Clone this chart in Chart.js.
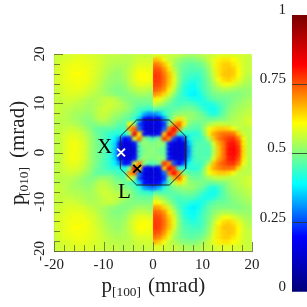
<!DOCTYPE html>
<html>
<head>
<meta charset="utf-8">
<script src="https://cdn.jsdelivr.net/npm/chart.js@4"></script>
<style>
html, body { margin: 0; padding: 0; background: #fff; }
canvas { position: absolute; left: 0; top: 0; }
</style>
</head>
<body>
<canvas id="chart_map" width="307" height="307"></canvas>
<canvas id="chart_bar" width="307" height="307"></canvas>
<script>
// cell centres in mrad, left to right and top to bottom
var cellX = [-19.5,-18.5,-17.5,-16.5,-15.5,-14.5,-13.5,-12.5,-11.5,-10.5,-9.5,-8.5,-7.5,-6.5,-5.5,-4.5,-3.5,-2.5,-1.5,-0.5,
    0.5,1.5,2.5,3.5,4.5,5.5,6.5,7.5,8.5,9.5,10.5,11.5,12.5,13.5,14.5,15.5,16.5,17.5,18.5,19.5];
var cellY = [19.5,18.5,17.5,16.5,15.5,14.5,13.5,12.5,11.5,10.5,9.5,8.5,7.5,6.5,5.5,4.5,3.5,2.5,1.5,0.5,
    -0.5,-1.5,-2.5,-3.5,-4.5,-5.5,-6.5,-7.5,-8.5,-9.5,-10.5,-11.5,-12.5,-13.5,-14.5,-15.5,-16.5,-17.5,-18.5,-19.5];

// density in percent, one row per cellY
var density = [
    [56,57,57,58,58,58,58,58,57,57,56,56,56,55,55,55,56,56,56,56, 58,58,57,56,56,55,54,53,53,54,55,56,57,58,58,58,58,57,57,56],
    [56,57,58,58,59,59,59,58,58,57,56,55,55,55,55,55,56,57,57,57, 67,65,60,56,54,52,50,50,50,51,53,56,59,62,63,63,61,59,57,56],
    [56,58,59,59,60,60,59,59,58,57,56,55,54,54,54,55,57,58,58,58, 73,71,66,60,53,50,48,47,47,48,50,54,59,63,65,65,63,60,57,56],
    [57,58,59,60,60,60,60,59,58,57,55,54,53,53,54,56,58,60,60,59, 76,75,70,63,55,50,47,46,46,46,48,52,58,63,65,66,65,61,57,56],
    [57,58,59,60,61,61,60,59,58,56,55,53,52,52,54,56,59,61,61,60, 78,77,72,66,58,50,46,45,44,44,47,51,57,63,66,66,65,61,57,55],
    [57,58,59,60,60,60,60,59,57,56,54,52,52,52,53,56,59,60,61,60, 78,77,73,66,59,50,45,43,42,43,46,50,55,61,64,65,63,59,56,54],
    [57,58,59,59,60,60,59,58,57,55,53,52,51,51,52,55,57,59,59,58, 77,76,72,65,58,49,43,41,40,43,46,49,53,57,60,60,58,56,54,53],
    [56,57,58,59,59,59,58,57,56,54,53,51,50,50,51,53,55,56,56,55, 75,73,70,62,55,47,42,40,39,42,45,48,51,53,54,54,53,52,52,52],
    [56,57,58,58,58,58,57,56,55,54,53,52,51,50,50,51,52,53,53,52, 70,68,64,57,51,45,42,39,38,40,44,47,49,50,50,50,50,50,51,52],
    [56,56,57,57,57,56,55,54,54,55,56,56,55,53,51,50,50,50,50,50, 62,60,56,52,47,44,44,42,41,40,42,45,47,48,48,49,50,51,52,53],
    [56,56,56,56,55,55,54,53,54,55,56,57,56,55,53,51,49,48,48,48, 56,54,51,48,46,45,46,46,45,43,41,41,42,45,47,49,51,52,53,54],
    [56,56,55,55,54,54,53,53,54,56,57,56,55,54,53,51,48,45,44,43, 47,46,46,46,47,48,49,49,48,46,43,41,40,43,47,50,52,53,54,55],
    [56,56,55,54,53,53,52,52,54,56,56,55,53,52,50,49,46,42,33,30, 30,34,42,47,50,51,52,52,51,49,47,43,41,44,48,51,53,54,55,56],
    [55,55,55,54,53,52,51,51,53,55,55,53,51,50,48,46,43,34,20,17, 17,20,32,46,55,63,57,52,51,50,49,48,48,49,50,52,54,55,56,57],
    [55,55,55,55,54,53,51,50,50,52,52,51,49,47,46,62,50,25,16,15, 15,16,24,50,68,74,62,50,48,48,50,53,55,56,56,55,55,55,56,57],
    [55,56,56,57,56,55,53,51,48,47,47,47,46,44,46,70,74,28,15,14, 14,15,28,72,82,70,50,47,46,46,52,60,63,65,65,64,60,56,55,55],
    [55,56,57,58,58,57,55,52,49,47,45,43,42,42,40,52,84,62,20,16, 16,20,65,83,76,42,42,43,42,43,50,62,68,71,73,73,72,64,56,55],
    [55,56,58,59,59,58,56,53,50,47,45,42,38,30,19,22,58,72,50,46, 46,50,78,70,26,18,26,40,44,44,46,54,66,72,75,78,78,72,60,55],
    [55,56,58,60,60,59,57,53,50,48,45,42,36,21,15,14,21,48,52,50, 50,52,50,21,15,14,17,35,44,46,46,47,58,68,73,80,81,76,62,55],
    [55,56,58,60,60,59,57,53,50,48,46,43,35,19,15,14,16,46,50,51, 50,50,47,18,14,14,16,32,45,46,46,45,55,66,73,81,82,78,63,55],
    [55,56,58,60,60,59,57,53,50,48,46,43,35,19,15,14,16,46,50,51, 50,50,47,18,14,14,16,32,45,46,46,45,55,66,73,81,82,78,63,55],
    [55,56,58,60,60,59,57,53,50,48,45,42,36,21,15,14,21,48,52,50, 50,52,50,21,15,14,17,35,44,46,46,47,58,68,73,80,81,76,62,55],
    [55,56,58,59,59,58,56,53,50,47,45,42,38,30,19,22,58,72,50,46, 46,50,78,70,26,18,26,40,44,44,46,54,66,72,75,78,78,72,60,55],
    [55,56,57,58,58,57,55,52,49,47,45,43,42,42,40,52,84,62,20,16, 16,20,65,83,76,42,42,43,42,43,50,62,68,71,73,73,72,64,56,55],
    [55,56,56,57,56,55,53,51,48,47,47,47,46,44,46,70,74,28,15,14, 14,15,28,72,82,70,50,47,46,46,52,60,63,65,65,64,60,56,55,55],
    [55,55,55,55,54,53,51,50,50,52,52,51,49,47,46,62,50,25,16,15, 15,16,24,50,68,74,62,50,48,48,50,53,55,56,56,55,55,55,56,57],
    [55,55,55,54,53,52,51,51,53,55,55,53,51,50,48,46,43,34,20,17, 17,20,32,46,55,63,57,52,51,50,49,48,48,49,50,52,54,55,56,57],
    [56,56,55,54,53,53,52,52,54,56,56,55,53,52,50,49,46,42,33,30, 30,34,42,47,50,51,52,52,51,49,47,43,41,44,48,51,53,54,55,56],
    [56,56,55,55,54,54,53,53,54,56,57,56,55,54,53,51,48,45,44,43, 47,46,46,46,47,48,49,49,48,46,43,41,40,43,47,50,52,53,54,55],
    [56,56,56,56,55,55,54,53,54,55,56,57,56,55,53,51,49,48,48,48, 56,54,51,48,46,45,46,46,45,43,41,41,42,45,47,49,51,52,53,54],
    [56,56,57,57,57,56,55,54,54,55,56,56,55,53,51,50,50,50,50,50, 62,60,56,52,47,44,44,42,41,40,42,45,47,48,48,49,50,51,52,53],
    [56,57,58,58,58,58,57,56,55,54,53,52,51,50,50,51,52,53,53,52, 70,68,64,57,51,45,42,39,38,40,44,47,49,50,50,50,50,50,51,52],
    [56,57,58,59,59,59,58,57,56,54,53,51,50,50,51,53,55,56,56,55, 75,73,70,62,55,47,42,40,39,42,45,48,51,53,54,54,53,52,52,52],
    [57,58,59,59,60,60,59,58,57,55,53,52,51,51,52,55,57,59,59,58, 77,76,72,65,58,49,43,41,40,43,46,49,53,57,60,60,58,56,54,53],
    [57,58,59,60,60,60,60,59,57,56,54,52,52,52,53,56,59,60,61,60, 78,77,73,66,59,50,45,43,42,43,46,50,55,61,64,65,63,59,56,54],
    [57,58,59,60,61,61,60,59,58,56,55,53,52,52,54,56,59,61,61,60, 78,77,72,66,58,50,46,45,44,44,47,51,57,63,66,66,65,61,57,55],
    [57,58,59,60,60,60,60,59,58,57,55,54,53,53,54,56,58,60,60,59, 76,75,70,63,55,50,47,46,46,46,48,52,58,63,65,66,65,61,57,56],
    [56,58,59,59,60,60,59,59,58,57,56,55,54,54,54,55,57,58,58,58, 73,71,66,60,53,50,48,47,47,48,50,54,59,63,65,65,63,60,57,56],
    [56,57,58,58,59,59,59,58,58,57,56,55,55,55,55,55,56,57,57,57, 67,65,60,56,54,52,50,50,50,51,53,56,59,62,63,63,61,59,57,56],
    [56,57,57,58,58,58,58,58,57,57,56,56,56,55,55,55,56,56,56,56, 58,58,57,56,56,55,54,53,53,54,55,56,57,58,58,58,58,57,57,56]
];

var octagonX = [-3.3, 3.3, 6.6, 6.6, 3.3, -3.3, -6.6, -6.6, -3.3];
var octagonY = [6.6, 6.6, 3.3, -3.3, -6.6, -6.6, -3.3, 3.3, 6.6];
var pointX = [-6.45, 0];
var pointL = [-3.2, -3.3];
var axisTicks = [-20, -10, 0, 10, 20];
var minorTicks = [-18, -16, -14, -12, -8, -6, -4, -2, 2, 4, 6, 8, 12, 14, 16, 18];
var barTicks = [0, 0.25, 0.5, 0.75, 1];
var barRange = [0, 1];
var serif = '"Liberation Serif"';

// colour stops
var stopAt = [0, 0.2, 0.39, 0.5, 0.61, 0.82, 1];
var stopColor = [[0, 0, 120], [0, 0, 255], [0, 255, 255], [128, 255, 128], [255, 255, 0], [255, 0, 0], [120, 0, 0]];

function jet(v)
{
    var i = 0;
    while (i < stopAt.length - 2 && v > stopAt[i + 1]) i++;
    var t = (v - stopAt[i]) / (stopAt[i + 1] - stopAt[i]);
    var a = stopColor[i], b = stopColor[i + 1];
    return 'rgb(' + [0, 1, 2].map(function(k) { return Math.round(a[k] + (b[k] - a[k]) * t); }).join(',') + ')';
}

function cells(keep)
{
    var out = [];
    density.forEach(function(row, r) {
        row.forEach(function(v, c) {
            if (keep(cellX[c])) out.push({x: cellX[c], y: cellY[r], v: v / 100});
        });
    });
    return out;
}

function heatSet(data, clip)
{
    return {
        heat: true,
        data: data,
        clip: clip,
        pointStyle: 'rect',
        pointRadius: 5.2,
        pointBorderWidth: 0,
        pointBackgroundColor: function(c) { return jet(c.raw.v); }
    };
}

// blur the cells so the map looks smooth, like the original
var smoothCells = {
    id: 'smoothCells',
    beforeDatasetDraw: function(chart, args) {
        if (chart.data.datasets[args.index].heat) chart.ctx.filter = 'blur(1.5px)';
    },
    afterDatasetDraw: function(chart) {
        chart.ctx.filter = 'none';
    }
};

// inward ticks and the text that is not an axis label
var decorations = {
    id: 'decorations',
    afterDatasetsDraw: function(chart) {
        var ctx = chart.ctx, sx = chart.scales.x, sy = chart.scales.y;
        var area = chart.chartArea;
        ctx.save();
        ctx.strokeStyle = 'rgba(95, 100, 40, 0.8)';
        ctx.lineWidth = 1;
        ctx.beginPath();
        function tick(v, len) {
            var px = Math.round(sx.getPixelForValue(v)) + 0.5;
            var py = Math.round(sy.getPixelForValue(v)) + 0.5;
            ctx.moveTo(px, area.bottom); ctx.lineTo(px, area.bottom - len);
            ctx.moveTo(area.left, py); ctx.lineTo(area.left + len, py);
        }
        minorTicks.forEach(function(v) { tick(v, 6); });
        axisTicks.forEach(function(v) { tick(v, 9); });
        ctx.stroke();

        ctx.fillStyle = '#000';
        ctx.textBaseline = 'alphabetic';
        ctx.textAlign = 'left';
        ctx.font = '21px ' + serif;
        ctx.fillText('X', 97, 153);
        ctx.fillText('L', 118, 198);

        ctx.fillStyle = '#222';
        ctx.font = '21px ' + serif;
        ctx.fillText('p', 101.5, 292);
        ctx.font = '13.4px ' + serif;
        ctx.fillText('[100]', 112, 295.5);
        ctx.font = '21px ' + serif;
        ctx.fillText('(mrad)', 148, 292);

        ctx.translate(24, 0);
        ctx.rotate(-Math.PI / 2);
        ctx.fillText('p', -205, 0);
        ctx.font = '13.4px ' + serif;
        ctx.fillText('[010]', -196, 4);
        ctx.font = '21px ' + serif;
        ctx.fillText('(mrad)', -158, 0);
        ctx.restore();
    }
};

new Chart(document.getElementById('chart_map'), {
    type: 'scatter',
    data: {
        datasets: [{
            data: [{x: pointX[0], y: pointX[1]}],
            pointStyle: 'crossRot',
            pointRadius: 5.5,
            pointBorderWidth: 2,
            pointBorderColor: '#fff'
        }, {
            data: [{x: pointL[0], y: pointL[1]}],
            pointStyle: 'crossRot',
            pointRadius: 5.5,
            pointBorderWidth: 2,
            pointBorderColor: '#000'
        }, {
            data: octagonX.map(function(x, i) { return {x: x, y: octagonY[i]}; }),
            showLine: true,
            pointRadius: 0,
            borderWidth: 1,
            borderColor: '#222'
        },
        heatSet(cells(function(x) { return x < 0; }), {left: 0, top: 0, bottom: 0, right: -99}),
        heatSet(cells(function(x) { return x > 0; }), {left: 0, top: 0, bottom: 0, right: 0})
        ]
    },
    options: {
        animation: false,
        responsive: false,
        layout: { padding: { top: 54, right: 55 } },
        plugins: { legend: { display: false }, tooltip: { enabled: false } },
        scales: {
            x: {
                min: -20,
                max: 20,
                afterFit: function(s) { s.height = 56; },
                afterBuildTicks: function(s) { s.ticks = axisTicks.map(function(v) { return {value: v}; }); },
                grid: { display: false, drawTicks: false },
                border: { color: 'rgba(95, 100, 40, 0.8)' },
                ticks: { maxRotation: 0, padding: 5, color: '#222', font: { family: serif, size: 15 } }
            },
            y: {
                min: -20,
                max: 20,
                afterFit: function(s) { s.width = 54; },
                afterBuildTicks: function(s) { s.ticks = axisTicks.map(function(v) { return {value: v}; }); },
                grid: { display: false, drawTicks: false },
                border: { color: 'rgba(95, 100, 40, 0.8)' },
                ticks: { minRotation: 90, maxRotation: 90, crossAlign: 'center', padding: 3.5, color: '#222', font: { family: serif, size: 15 } }
            }
        }
    },
    plugins: [smoothCells, decorations]
});

new Chart(document.getElementById('chart_bar'), {
    type: 'bar',
    data: {
        labels: ['density'],
        datasets: [{
            data: [barRange],
            barPercentage: 1,
            categoryPercentage: 1,
            backgroundColor: function(c) {
                var area = c.chart.chartArea;
                if (!area) return '#000';
                var g = c.chart.ctx.createLinearGradient(0, area.bottom, 0, area.top);
                stopAt.forEach(function(s) { g.addColorStop(s, jet(s)); });
                return g;
            }
        }]
    },
    options: {
        animation: false,
        responsive: false,
        layout: { padding: { top: 15, bottom: 15 } },
        plugins: { legend: { display: false }, tooltip: { enabled: false } },
        scales: {
            x: { display: false },
            y: {
                min: 0,
                max: 1,
                afterFit: function(s) { s.width = 292; },
                afterBuildTicks: function(s) { s.ticks = barTicks.map(function(v) { return {value: v}; }); },
                grid: {
                    z: 1,
                    drawTicks: false,
                    color: function(c) { return (c.tick.value > 0 && c.tick.value < 1) ? 'rgba(40, 50, 40, 0.8)' : 'rgba(0,0,0,0)'; }
                },
                border: { display: false },
                ticks: {
                    padding: 6,
                    labelOffset: -5,
                    color: '#222',
                    font: { family: serif, size: 15 },
                    callback: function(v) { return String(v); }
                }
            }
        }
    }
});
</script>
</body>
</html>
